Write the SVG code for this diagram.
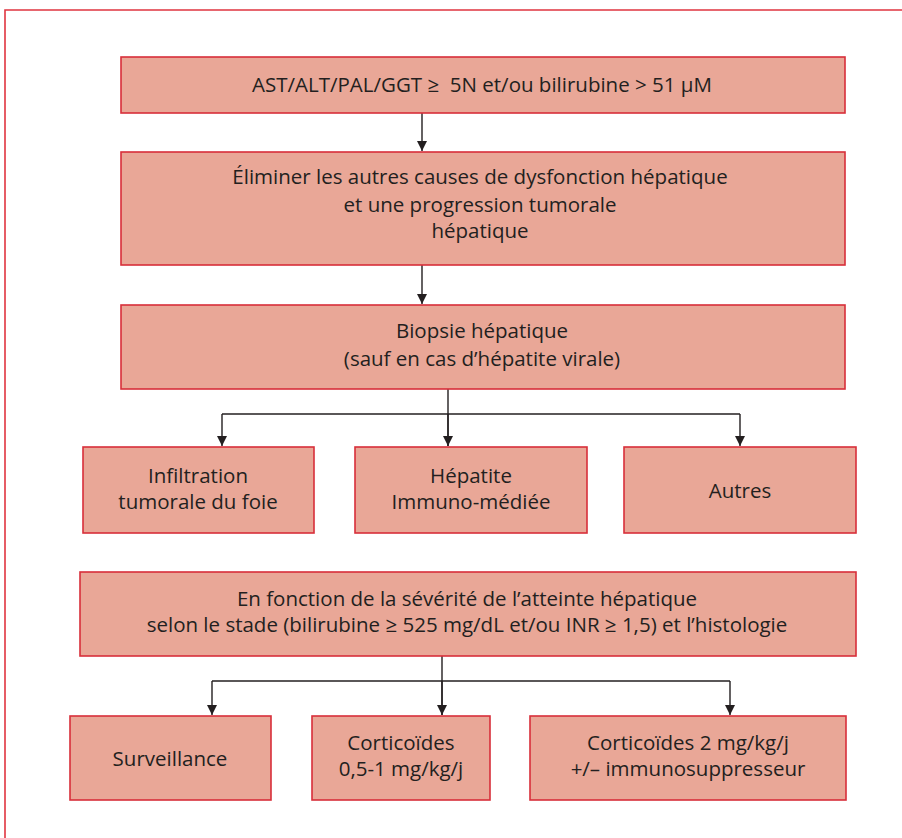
<svg xmlns="http://www.w3.org/2000/svg" width="902" height="838" viewBox="0 0 902 838">
<defs>
<style>
.box{fill:#e9a797;stroke:#d82f3a;stroke-width:1.6}
.t{font-family:"Open Sans","Liberation Sans",sans-serif;font-size:20.5px;fill:#231f20;text-anchor:middle}
.c{fill:none;stroke:#231f20;stroke-width:1.4}
</style>
<marker id="ah" viewBox="0 0 10 10" refX="10" refY="5" markerWidth="10" markerHeight="10" markerUnits="userSpaceOnUse" orient="auto">
<path d="M0,0 L10,5 L0,10 Z" fill="#231f20"/>
</marker>
</defs>
<rect width="902" height="838" fill="#ffffff"/>
<path d="M5,838 V10 H902" fill="none" stroke="#e03540" stroke-width="1.6"/>

<g id="connectors">
<path class="c" d="M422,113 V151" marker-end="url(#ah)"/>
<path class="c" d="M422,265 V304" marker-end="url(#ah)"/>
<path class="c" d="M448,389 V446"/>
<path class="c" d="M222,414 H740"/>
<path class="c" d="M222,414 V446" marker-end="url(#ah)"/>
<path class="c" d="M448,414 V446" marker-end="url(#ah)"/>
<path class="c" d="M740,414 V446" marker-end="url(#ah)"/>
<path class="c" d="M442,656 V715"/>
<path class="c" d="M212,681 H730"/>
<path class="c" d="M212,681 V715" marker-end="url(#ah)"/>
<path class="c" d="M442,681 V715" marker-end="url(#ah)"/>
<path class="c" d="M730,681 V715" marker-end="url(#ah)"/>
</g>

<g id="n1">
<rect class="box" x="121" y="57" width="724" height="56"/>
<text class="t" x="482" y="92">AST/ALT/PAL/GGT ≥&#160; 5N et/ou bilirubine &gt; 51 µM</text>
</g>
<g id="n2">
<rect class="box" x="121" y="152" width="724" height="113"/>
<text class="t" x="480" y="184">Éliminer les autres causes de dysfonction hépatique</text>
<text class="t" x="480" y="212">et une progression tumorale</text>
<text class="t" x="480" y="238">hépatique</text>
</g>
<g id="n3">
<rect class="box" x="121" y="305" width="724" height="84"/>
<text class="t" x="482" y="338">Biopsie hépatique</text>
<text class="t" x="482" y="366">(sauf en cas d’hépatite virale)</text>
</g>
<g id="n4">
<rect class="box" x="83" y="447" width="231" height="86"/>
<text class="t" x="198" y="483">Infiltration</text>
<text class="t" x="198" y="509">tumorale du foie</text>
</g>
<g id="n5">
<rect class="box" x="355" y="447" width="232" height="86"/>
<text class="t" x="471" y="483">Hépatite</text>
<text class="t" x="471" y="509">Immuno-médiée</text>
</g>
<g id="n6">
<rect class="box" x="624" y="447" width="232" height="86"/>
<text class="t" x="740" y="498">Autres</text>
</g>
<g id="n7">
<rect class="box" x="80" y="572" width="776" height="84"/>
<text class="t" x="467" y="606">En fonction de la sévérité de l’atteinte hépatique</text>
<text class="t" x="467" y="632">selon le stade (bilirubine ≥ 525 mg/dL et/ou INR ≥ 1,5) et l’histologie</text>
</g>
<g id="n8">
<rect class="box" x="70" y="716" width="201" height="84"/>
<text class="t" x="170" y="766">Surveillance</text>
</g>
<g id="n9">
<rect class="box" x="312" y="716" width="178" height="84"/>
<text class="t" x="401" y="750">Corticoïdes</text>
<text class="t" x="401" y="776">0,5-1 mg/kg/j</text>
</g>
<g id="n10">
<rect class="box" x="530" y="716" width="316" height="84"/>
<text class="t" x="688" y="750">Corticoïdes 2 mg/kg/j</text>
<text class="t" x="688" y="776">+/– immunosuppresseur</text>
</g>
</svg>
